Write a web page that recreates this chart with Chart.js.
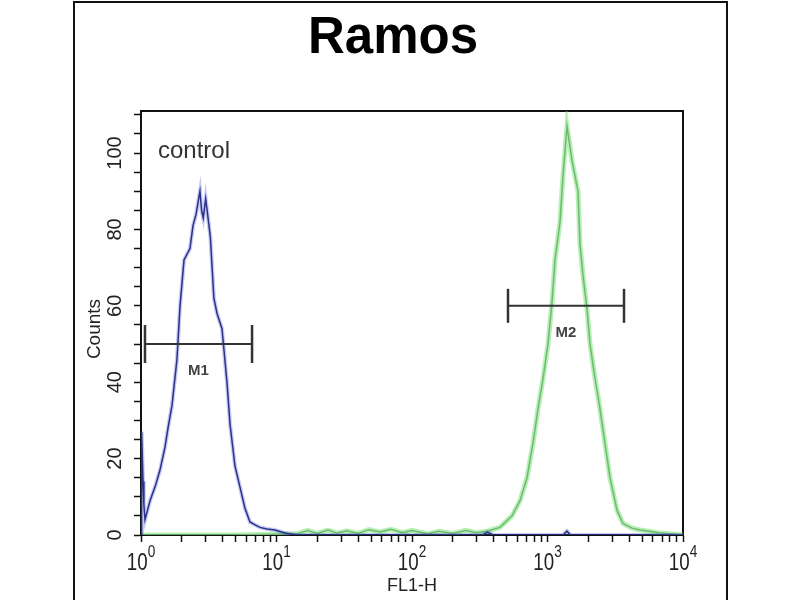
<!DOCTYPE html>
<html lang="en">
<head>
<meta charset="UTF-8">
<title>Ramos</title>
<script src="https://cdn.jsdelivr.net/npm/chart.js"></script>
<style>
  body { margin: 0; background: #fff; }
  #wrap { position: relative; width: 800px; height: 600px; overflow: hidden; }
  #frame { position: absolute; left: 73px; top: 1px; width: 651px; height: 700px; border: 2px solid #111; pointer-events: none; }
</style>
</head>
<body>
<div id="wrap">
  <canvas id="facsChart" width="800" height="600"></canvas>
  <div id="frame"></div>
</div>
<script>
// control histogram (blue)
const controlX = [1.0, 1.005, 1.017, 1.035, 1.05, 1.07, 1.166, 1.28, 1.381, 1.503, 1.582, 1.694, 1.843, 1.941, 2.077, 2.298, 2.42, 2.55, 2.634, 2.724, 2.8, 2.88, 3.0, 3.1, 3.25, 3.45, 3.64, 3.96, 4.31, 4.54, 4.94, 5.37, 5.85, 6.37, 7.0, 7.54, 8.5, 9.75, 11.55, 14, 50, 330, 360, 400, 1300, 1390, 1480, 10000];
const controlY = [0, 18, 27, 14, 8, 4, 9, 13, 17, 23, 28, 34, 46, 60, 72, 75, 81, 84, 87, 90, 85, 83, 88, 84, 78, 62, 58, 54, 40, 29, 18, 12.6, 7, 3.4, 2.6, 2, 1.6, 1.3, 0.5, 0, 0, 0, 0.7, 0, 0, 1, 0, 0];

// sample histogram (green)
const sampleX = [1, 5, 14, 17, 20, 24, 28, 33, 40, 48, 58, 70, 85, 100, 130, 158, 200, 250, 300, 358, 446, 547, 627, 706, 781, 851, 927, 1009, 1080, 1136, 1237, 1301, 1393, 1517, 1679, 1738, 1828, 1958, 2060, 2243, 2440, 2656, 2892, 3258, 3606, 4200, 4816, 5600, 6761, 8000, 10000];
const sampleY = [0, 0, 0.3, 1.2, 0.4, 1.3, 0.5, 1.1, 0.4, 1.4, 0.8, 1.5, 0.6, 1.2, 0.3, 1, 0.4, 1.2, 0.6, 1, 2, 5, 9, 15, 24, 33, 41, 50, 61, 72, 82, 94, 107, 98, 90, 76, 68, 59, 50, 41, 33, 24, 15, 6.5, 3, 1.8, 1.3, 1, 0.5, 0.3, 0];

// gate markers
const markerNames = ['M1', 'M2'];
const markerFrom = [1.07, 511];
const markerTo = [6.6, 3670];
const markerLevel = [50, 60];
const markerCap = [19, 17];

const yTickLabels = [0, 20, 40, 60, 80, 100];
const xTickExps = [0, 1, 2, 3, 4];

const FONT = '"Liberation Sans", Arial, sans-serif';
Chart.defaults.font.family = FONT;

const pts = (xs, ys) => xs.map((x, i) => ({ x: x, y: ys[i] }));

const xTicks = [];
for (let e = 0; e < 4; e++) {
  for (let m = 1; m < 10; m++) xTicks.push({ value: m * Math.pow(10, e) });
}
xTicks.push({ value: 10000 });
const yTicks = [];
for (let v = 0; v <= 110; v += 5) yTicks.push({ value: v });

const markerSets = markerNames.map((n, i) => ({
  label: n,
  data: [{ x: markerFrom[i], y: markerLevel[i] }, { x: markerTo[i], y: markerLevel[i] }],
  borderColor: '#333',
  borderWidth: 2,
  pointStyle: 'line',
  rotation: 90,
  pointRadius: markerCap[i],
  pointBorderWidth: 2.5,
  pointBorderColor: '#333'
}));

const decor = {
  id: 'decor',
  beforeDatasetsDraw(chart) {
    const { ctx, chartArea: a } = chart;
    ctx.save();
    ctx.strokeStyle = '#111';
    ctx.lineWidth = 2;
    ctx.beginPath();
    ctx.moveTo(a.left, a.top);
    ctx.lineTo(a.right, a.top);
    ctx.lineTo(a.right, a.bottom);
    ctx.stroke();
    ctx.restore();
  },
  afterDraw(chart) {
    const { ctx, chartArea: a } = chart;
    const xs = chart.scales.x, ys = chart.scales.y;
    ctx.save();
    ctx.fillStyle = '#222';

    // y tick labels, written upwards
    ctx.font = '20px ' + FONT;
    ctx.textAlign = 'center';
    ctx.textBaseline = 'alphabetic';
    yTickLabels.forEach(v => {
      ctx.save();
      ctx.translate(121, ys.getPixelForValue(v));
      ctx.rotate(-Math.PI / 2);
      ctx.fillText(String(v), 0, 0);
      ctx.restore();
    });

    ctx.save();
    ctx.font = '19px ' + FONT;
    ctx.translate(100, 329);
    ctx.rotate(-Math.PI / 2);
    ctx.fillText('Counts', 0, 0);
    ctx.restore();

    // x tick labels 10^n
    ctx.textAlign = 'left';
    xTickExps.forEach(e => {
      const px = xs.getPixelForValue(Math.pow(10, e));
      ctx.font = '24px ' + FONT;
      const w1 = ctx.measureText('10').width * 0.78;
      ctx.font = '17px ' + FONT;
      const w2 = ctx.measureText(String(e)).width * 0.8;
      const left = px - (w1 + w2) / 2;
      ctx.save();
      ctx.translate(left, 570);
      ctx.scale(0.78, 1);
      ctx.font = '24px ' + FONT;
      ctx.fillText('10', 0, 0);
      ctx.restore();
      ctx.save();
      ctx.translate(left + w1, 557);
      ctx.scale(0.8, 1);
      ctx.font = '17px ' + FONT;
      ctx.fillText(String(e), 0, 0);
      ctx.restore();
    });

    ctx.fillStyle = '#333';
    ctx.font = '24px ' + FONT;
    ctx.fillText('control', a.left + 17, a.top + 47);

    ctx.font = 'bold 15px ' + FONT;
    ctx.textAlign = 'center';
    ctx.textBaseline = 'middle';
    ctx.fillStyle = '#444';
    markerNames.forEach((n, i) => {
      const cx = xs.getPixelForValue(Math.sqrt(markerFrom[i] * markerTo[i]));
      const cy = ys.getPixelForValue(markerLevel[i]) + 27;
      ctx.fillText(n, cx, cy);
    });
    ctx.restore();
  }
};

new Chart(document.getElementById('facsChart'), {
  type: 'line',
  data: {
    datasets: markerSets.concat([
      { label: 'control', data: pts(controlX, controlY), borderColor: '#2a3288', borderWidth: 1.5, pointRadius: 0 },
      { label: 'control glow', data: pts(controlX, controlY), borderColor: 'rgba(70,80,220,0.3)', borderWidth: 4, pointRadius: 0 },
      { label: 'sample', data: pts(sampleX, sampleY), borderColor: '#72b872', borderWidth: 1.5, pointRadius: 0 },
      { label: 'sample glow', data: pts(sampleX, sampleY), borderColor: 'rgba(110,225,110,0.5)', borderWidth: 5, pointRadius: 0 }
    ])
  },
  options: {
    responsive: false,
    animation: false,
    devicePixelRatio: 1,
    layout: { padding: { left: 103, right: 117, top: 0, bottom: 0 } },
    plugins: {
      legend: { display: false },
      tooltip: { enabled: false },
      title: {
        display: true,
        text: 'Ramos',
        color: '#000',
        font: { size: 51, weight: 'bold' },
        padding: { top: 8, bottom: 41.8 }
      }
    },
    scales: {
      x: {
        type: 'logarithmic',
        min: 1,
        max: 10000,
        afterBuildTicks(s) { s.ticks = xTicks.slice(); },
        afterFit(s) { s.height = 65; },
        ticks: { display: false, autoSkip: false },
        grid: { drawOnChartArea: false, tickLength: 7, tickColor: '#111', tickWidth: 1.5 },
        border: { color: '#111', width: 2 },
        title: { display: true, text: 'FL1-H', color: '#222', font: { size: 18 }, padding: { top: 0, bottom: 3 } }
      },
      y: {
        min: 0,
        max: 111,
        afterBuildTicks(s) { s.ticks = yTicks.slice(); },
        afterFit(s) { s.width = 38; },
        ticks: { display: false },
        grid: { drawOnChartArea: false, tickLength: 7, tickColor: '#111', tickWidth: 1.5 },
        border: { color: '#111', width: 2 }
      }
    }
  },
  plugins: [decor]
});
</script>
</body>
</html>
